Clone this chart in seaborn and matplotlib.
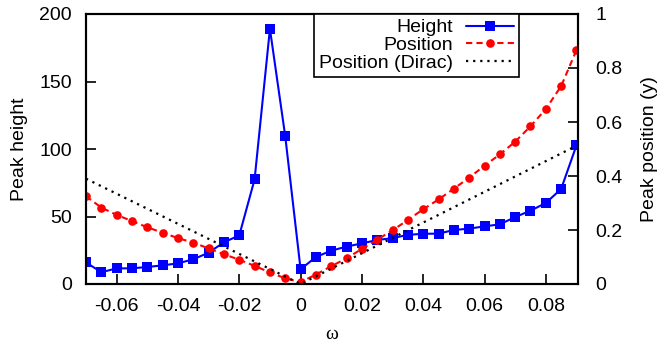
import matplotlib
matplotlib.use("Agg")
import matplotlib.pyplot as plt
import seaborn as sns
import pandas as pd

omega = [-0.07, -0.065, -0.06, -0.055, -0.05, -0.045, -0.04, -0.035, -0.03, -0.025,
         -0.02, -0.015, -0.01, -0.005, 0.0, 0.005, 0.01, 0.015, 0.02, 0.025,
         0.03, 0.035, 0.04, 0.045, 0.05, 0.055, 0.06, 0.065, 0.07, 0.075,
         0.08, 0.085, 0.09]
height = [16, 8.7, 11.6, 11.6, 12.6, 13.8, 15.3, 18.3, 23.2, 30.9,
          36, 77.5, 189, 109.4, 10.9, 20, 24.7, 27.7, 30.1, 32.6,
          34, 36.4, 37.2, 37.3, 40, 41, 42.7, 44.2, 49.6, 54.3,
          60, 70.4, 102.7]
position = [0.325, 0.283, 0.256, 0.233, 0.21, 0.19, 0.17, 0.153, 0.132, 0.11,
            0.09, 0.067, 0.043, 0.021, 0.007, 0.035, 0.066, 0.095, 0.13, 0.164,
            0.199, 0.237, 0.277, 0.313, 0.353, 0.394, 0.438, 0.48, 0.527, 0.584,
            0.648, 0.733, 0.866]
dirac_omega = [-0.07, 0.0, 0.09]
dirac_position = [0.39, 0.0, 0.512]

xticks = [-0.06, -0.04, -0.02, 0, 0.02, 0.04, 0.06, 0.08]
xticklabels = ["-0.06", "-0.04", "-0.02", "0", "0.02", "0.04", "0.06", "0.08"]
yticks_left = [0, 50, 100, 150, 200]
yticks_right = [0, 0.2, 0.4, 0.6, 0.8, 1]
yticklabels_right = ["0", "0.2", "0.4", "0.6", "0.8", "1"]

sns.set_style("ticks")
plt.rcParams["font.family"] = ["Liberation Sans", "DejaVu Sans"]
plt.rcParams["axes.unicode_minus"] = False
plt.rcParams["font.size"] = 14
for k in ["text.color", "axes.labelcolor", "xtick.color", "ytick.color", "axes.edgecolor"]:
    plt.rcParams[k] = "black"

df = pd.DataFrame({"omega": omega, "height": height, "position": position})
dfd = pd.DataFrame({"omega": dirac_omega, "position": dirac_position})

fig = plt.figure(figsize=(6.6, 3.46), dpi=100)
ax = fig.add_axes([86/660, 1-284/346, (578-86)/660, (284-14)/346])
ax2 = ax.twinx()

sns.lineplot(data=df, x="omega", y="height", ax=ax, color="#0000ff", lw=1.5,
             marker="s", markersize=6.5, markeredgewidth=0, label="Height", legend=False)
sns.lineplot(data=df, x="omega", y="position", ax=ax2, color="#ff0000", lw=1.5,
             linestyle=(0, (3, 2)), marker="o", markersize=6.2, markeredgewidth=0,
             label="Position", legend=False)
sns.lineplot(data=dfd, x="omega", y="position", ax=ax2, color="black", lw=1.6,
             linestyle=(0, (1, 2.2)), label="Position (Dirac)", legend=False)

ax.set_xlim(-0.07, 0.0905)
ax.set_ylim(0, 200)
ax2.set_ylim(0, 1)
ax.set_xticks(xticks)
ax.set_xticklabels(xticklabels)
ax.set_yticks(yticks_left)
ax2.set_yticks(yticks_right)
ax2.set_yticklabels(yticklabels_right)

for a in (ax, ax2):
    a.tick_params(direction="in", length=7, width=1.2, labelsize=14)
    for s in a.spines.values():
        s.set_linewidth(1.5)
        s.set_color("black")
ax.tick_params(axis="x", pad=10)
ax.tick_params(axis="y", right=False, pad=10)
ax2.tick_params(axis="y", left=False, pad=12.5)

ax.set_xlabel("ω", fontsize=14, family=["Liberation Serif", "DejaVu Serif"], labelpad=8)
ax.set_ylabel("Peak height", fontsize=14, labelpad=8)
ax2.set_ylabel("Peak position (y)", fontsize=14, labelpad=13)

h1, l1 = ax.get_legend_handles_labels()
h2, l2 = ax2.get_legend_handles_labels()
leg = ax2.legend(h1 + h2, l1 + l2, loc="upper right", bbox_to_anchor=(519/660, 1-14/346),
                 bbox_transform=fig.transFigure, markerfirst=False, frameon=True,
                 fancybox=False, framealpha=1, edgecolor="black", fontsize=14,
                 borderaxespad=0, borderpad=0.25, labelspacing=0.0, handlelength=2.5,
                 handletextpad=0.65)
leg.get_frame().set_linewidth(1.2)

fig.savefig("out.png", dpi=100)
